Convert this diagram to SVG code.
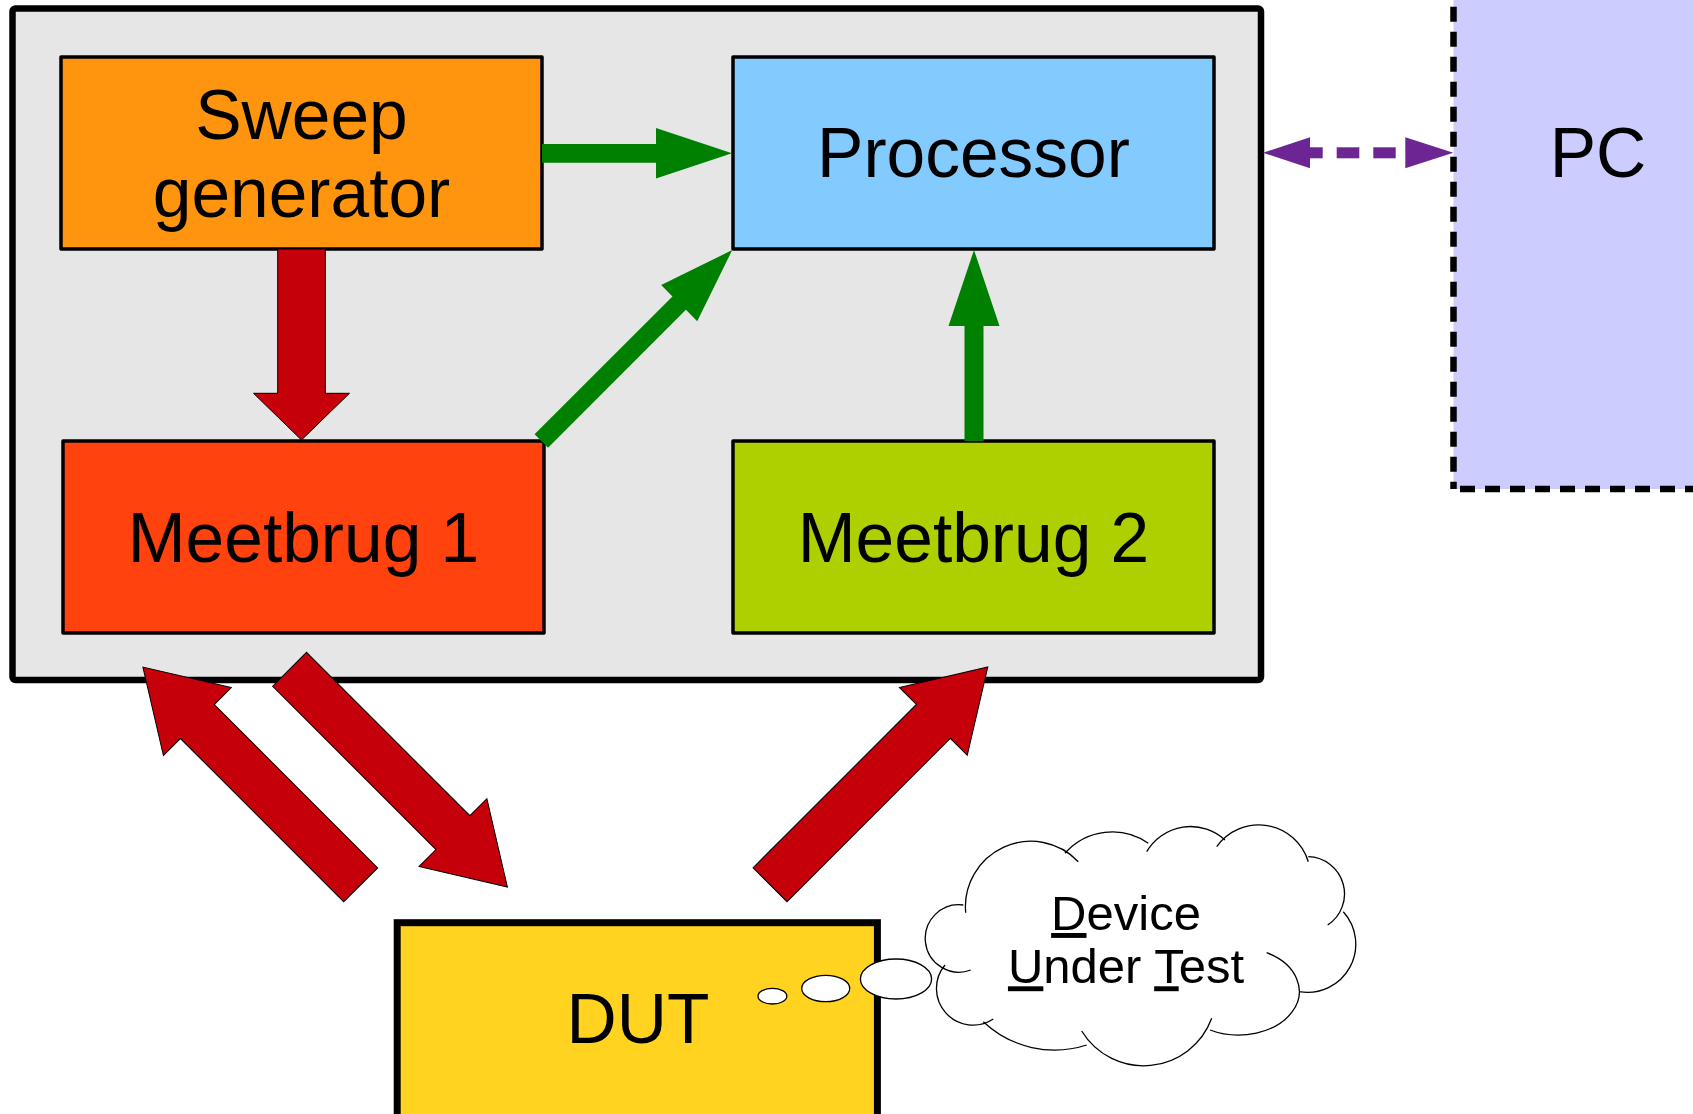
<svg xmlns="http://www.w3.org/2000/svg" width="1693" height="1114" viewBox="0 0 1693 1114">
<style>
.box{stroke:#000;stroke-width:3.5;stroke-linejoin:round}
.lbl{font-family:"Liberation Sans",Arial,sans-serif;font-size:69.5px;fill:#000;text-anchor:middle}
.small{font-family:"Liberation Sans",Arial,sans-serif;font-size:49px;fill:#000;text-anchor:middle}
.green{fill:#008000}
.red{fill:#c5000b;stroke:#000;stroke-width:1;stroke-linejoin:miter}
.purple{fill:#6c2592}
.thought{fill:#fff;stroke:#000;stroke-width:1.3}
.cl{fill:none;stroke:#000;stroke-width:1.3}
</style>
<rect width="1693" height="1114" fill="#fff"/>
<g id="pc">
<rect x="1453.5" y="-10" width="260" height="499" fill="#ccccff"/>
<path d="M1453.5,6.7 V489" fill="none" stroke="#000" stroke-width="6.5" stroke-dasharray="15 10"/>
<path d="M1460,489 H1693" fill="none" stroke="#000" stroke-width="6.5" stroke-dasharray="15 10"/>
<text class="lbl" x="1598" y="177">PC</text>
</g>
<g id="instrument">
<rect x="12.5" y="8.5" width="1248.5" height="671.5" rx="3" fill="#e6e6e6" stroke="#000" stroke-width="6.5" stroke-linejoin="round"/>
</g>
<g id="sweep">
<rect class="box" x="61" y="57" width="481" height="192" fill="#ff950e"/>
<text class="lbl" x="301.5" y="139.3">Sweep</text>
<text class="lbl" x="301.5" y="216.7">generator</text>
</g>
<g id="processor">
<rect class="box" x="733" y="57" width="481" height="192" fill="#83caff"/>
<text class="lbl" x="973.5" y="176.7">Processor</text>
</g>
<g id="meetbrug1">
<rect class="box" x="63" y="441" width="481" height="192" fill="#ff420e"/>
<text class="lbl" x="303.5" y="561.7">Meetbrug 1</text>
</g>
<g id="meetbrug2">
<rect class="box" x="733" y="441" width="481" height="192" fill="#aecf00"/>
<text class="lbl" x="973.5" y="561.7">Meetbrug 2</text>
</g>
<g id="dut">
<rect x="397.2" y="922.7" width="480.2" height="200" fill="#ffd320" stroke="#000" stroke-width="7"/>
<text class="lbl" x="638" y="1042.7">DUT</text>
</g>
<g id="connectors">
<polygon class="green" points="542,144 656,144 656,128 732,153.3 656,178.5 656,162.7 542,162.7"/>
<polygon class="green" points="964.5,441 964.5,326 948.5,326 974,250 999.5,326 983.5,326 983.5,441"/>
<polygon class="green" transform="translate(541.3,441) rotate(-45)" points="0,-9.5 195,-9.5 195,-25.5 270,0 195,25.5 195,9.5 0,9.5"/>
<polygon class="red" points="277.7,249 325.3,249 325.3,393.3 349.5,393.3 301.5,440 253.5,393.3 277.7,393.3"/>
<polygon class="red" transform="translate(360.7,884.9) rotate(225)" points="0,-24 231,-24 231,-48 308,0 231,48 231,24 0,24"/>
<polygon class="red" transform="translate(289.6,669.3) rotate(45)" points="0,-24 231,-24 231,-48 308,0 231,48 231,24 0,24"/>
<polygon class="red" transform="translate(770,884.7) rotate(-45)" points="0,-24 231,-24 231,-48 308,0 231,48 231,24 0,24"/>
<g class="purple">
<polygon points="1263,152.8 1310,137.3 1310,168.3"/>
<rect x="1309.5" y="147.3" width="13.2" height="11"/>
<rect x="1336.7" y="147.3" width="22.6" height="11"/>
<rect x="1373.3" y="147.3" width="22.4" height="11"/>
<polygon points="1405.3,137.3 1453.3,152.8 1405.3,168.3"/>
</g>
</g>
<g id="thought">
<ellipse class="thought" cx="772.4" cy="996.2" rx="14.4" ry="7.8"/>
<ellipse class="thought" cx="825.7" cy="988.5" rx="24" ry="13.2"/>
<ellipse class="thought" cx="896" cy="979" rx="35.6" ry="20"/>
<path d="M945,965.7 A30.5,30.5 0 0 1 965,908.3 A65,65 0 0 1 1066.7,853.3 A61,61 0 0 1 1148.3,845 A44,44 0 0 1 1218.3,843.3 A55,55 0 0 1 1308.3,856.7 A43,43 0 0 1 1343.3,911.7 A48.5,48.5 0 0 1 1298.3,991.7 A60,43 0 0 1 1210,1030 A84,84 0 0 1 1086.7,1045 A99,99 0 0 1 985,1020 A34.5,34.5 0 0 1 945,965.7 Z" fill="#fff"/>
<path class="cl" d="M970.7,970 A33.7,33.7 0 1 1 963.3,905
M965.7,912.7 A65.4,65.4 0 0 1 1078.3,861.7
M1065,853.3 A63,63 0 0 1 1148.3,843.3
M1146.7,851.7 A50.8,50.8 0 0 1 1225,840
M1216.7,846.7 A51.6,51.6 0 0 1 1308.3,861.7
M1308.3,856.7 A37.2,37.2 0 0 1 1327.7,925
M1343.3,911.7 A48.3,48.3 0 0 1 1299.3,991.7
M1266.7,952.7 A60,43 0 1 1 1210,1030
M1211.7,1018.3 A72.5,72.5 0 0 1 1081.7,1031
M1086.7,1045 A104,104 0 0 1 983.3,1021.7
M993.3,1019 A36.6,36.6 0 0 1 945,965"/>
<text class="small" x="1126" y="930"><tspan text-decoration="underline">D</tspan>evice</text>
<text class="small" x="1126" y="983.3"><tspan text-decoration="underline">U</tspan>nder <tspan text-decoration="underline">T</tspan>est</text>
</g>
</svg>
